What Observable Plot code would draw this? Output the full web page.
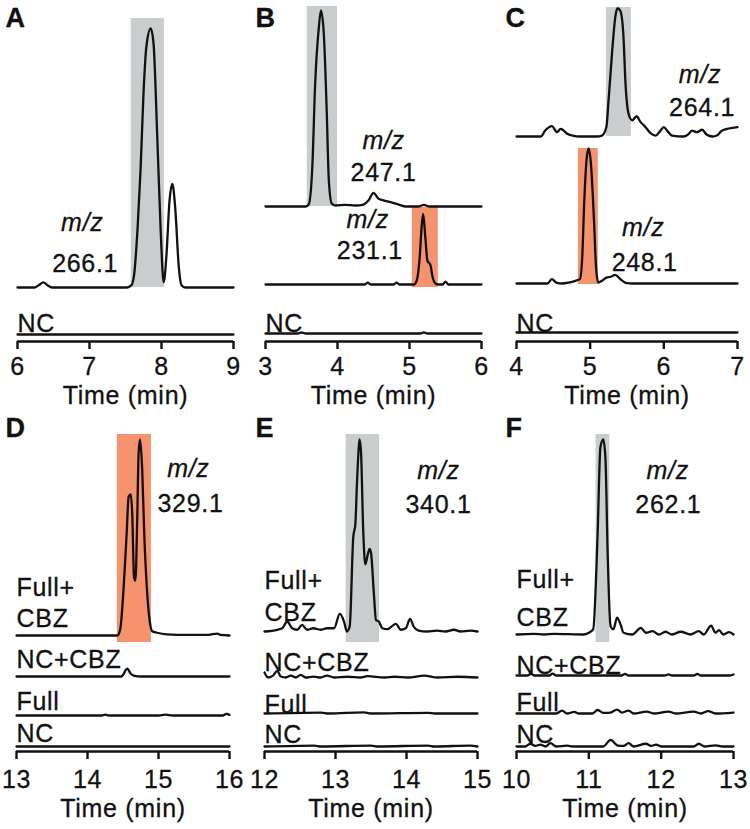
<!DOCTYPE html>
<html><head><meta charset="utf-8">
<script src="https://cdn.jsdelivr.net/npm/d3@7"></script>
<script src="https://cdn.jsdelivr.net/npm/@observablehq/plot@0.6"></script>
<style>
html,body{margin:0;padding:0;background:#fff;}
#fig{position:relative;width:750px;height:829px;overflow:hidden;}
#fig .panel{position:absolute;}
#fig svg text{stroke:#111;stroke-width:0.3px;paint-order:stroke;letter-spacing:0.7px;}
</style></head><body><div id="fig"></div>
<script>
// ---------- DATA: [time (min), relative intensity (% of panel's largest peak)] ----------
const A_mz266 = [[6.00,0],[6.24,0],[6.30,1.0],[6.36,2.0],[6.42,0.8],[6.48,0],[7.52,0],[7.58,0.8],[7.62,5],[7.67,24],[7.71,46],[7.75,75],[7.79,93],[7.85,100],[7.89,94],[7.94,59],[7.99,21],[8.03,2],[8.07,13],[8.11,33],[8.15,40],[8.19,31],[8.24,8],[8.28,0.8],[8.33,0],[9.00,0]];
const A_NC = [[6.00,0],[9.00,0]];

const B_mz247 = [[3.00,0],[3.56,0],[3.60,1],[3.65,20],[3.69,63],[3.74,91],[3.77,100],[3.81,88],[3.85,49],[3.88,13],[3.92,1.5],[3.97,0.5],[4.10,0.8],[4.25,0.5],[4.36,1],[4.43,3],[4.50,7],[4.57,4],[4.65,3],[4.76,2],[4.85,1],[4.95,0],[5.12,0],[5.20,0.8],[5.28,0],[6.00,0]];
const B_mz231 = [[3.00,0],[4.38,0],[4.42,1],[4.46,0],[4.78,0],[4.82,1],[4.86,0],[5.06,0],[5.10,2],[5.14,13],[5.17,30],[5.19,36],[5.22,24],[5.25,12],[5.27,11],[5.29,10],[5.32,4],[5.36,0.5],[5.40,0],[5.46,0],[5.50,1.5],[5.54,0],[6.00,0]];
const B_NC = [[3.00,0],[3.45,0],[3.50,0.5],[3.56,0],[5.15,0],[5.20,0.6],[5.25,0],[6.00,0]];

const C_mz264 = [[4.00,0],[4.33,0],[4.39,4.4],[4.48,7.7],[4.55,3.2],[4.60,5.7],[4.64,4.4],[4.69,2],[4.76,0.7],[4.87,0],[5.09,0],[5.16,0.7],[5.22,7],[5.25,27],[5.30,64],[5.34,88],[5.37,95],[5.41,93],[5.45,76],[5.48,39],[5.52,17],[5.57,12],[5.63,15],[5.68,11],[5.75,7],[5.82,2.5],[5.89,0.7],[5.95,4],[6.00,7],[6.05,4],[6.11,0.7],[6.27,0],[6.34,2],[6.38,4.4],[6.45,3.2],[6.52,5],[6.58,1.5],[6.66,0],[6.72,0.7],[6.78,4],[6.86,5.7],[6.93,6.4],[7.00,7]];
const C_mz248 = [[4.00,0],[4.42,0],[4.48,3.2],[4.54,0.7],[4.62,0],[4.71,0.7],[4.80,2],[4.86,3.2],[4.89,17],[4.92,61],[4.95,91],[4.98,100],[5.01,89],[5.05,49],[5.08,12],[5.11,0.7],[5.16,2],[5.22,4.4],[5.28,5],[5.34,6.4],[5.41,3.2],[5.50,0.2],[5.57,0],[7.00,0]];
const C_NC = [[4.00,0],[7.00,0]];

const D_fullCBZ = [[13.00,0],[14.42,0],[14.46,3],[14.51,25],[14.55,51],[14.58,71],[14.61,72],[14.63,62],[14.655,30],[14.675,28],[14.70,59],[14.72,93],[14.74,100],[14.77,85],[14.80,51],[14.84,22],[14.88,6.5],[14.91,2.2],[14.98,1.4],[15.12,0.6],[15.40,0.3],[15.70,0.3],[15.83,1],[15.87,0.3],[16.00,0]];
const D_ncCBZ = [[13.00,0],[14.48,0],[14.51,1.4],[14.54,3.4],[14.56,4],[14.61,1.4],[14.65,0.5],[14.75,0],[16.00,0]];
const D_full = [[13.00,0],[14.20,0],[14.25,0.4],[14.30,0],[15.00,0],[15.10,0.4],[15.20,0],[15.90,0],[15.96,0.8],[16.00,0.3]];
const D_NC = [[13.00,0],[16.00,0]];

const E_fullCBZ = [[12.00,0],[12.18,0.9],[12.25,1.7],[12.32,5.2],[12.39,1.7],[12.46,0.9],[12.53,3.5],[12.60,0.9],[12.69,1.7],[12.79,0.9],[12.88,1.7],[12.98,1.7],[13.06,9.2],[13.12,5.2],[13.16,0],[13.20,2.6],[13.25,49],[13.28,56],[13.30,75],[13.33,97],[13.34,100],[13.36,93],[13.39,53],[13.42,35],[13.46,41],[13.48,43],[13.50,41],[13.54,20],[13.57,6],[13.61,5.2],[13.66,1.7],[13.73,1.2],[13.85,4],[13.92,0.9],[13.99,1.7],[14.05,6.6],[14.10,2.6],[14.17,0.5],[14.29,0],[14.43,0.5],[14.55,0],[14.67,0.9],[14.76,0],[14.90,0.5],[15.00,0]];
const E_ncCBZ = [[12.00,2.6],[12.05,0],[12.12,1],[12.18,3.5],[12.23,0.5],[12.30,0],[12.37,1],[12.44,0],[12.51,1.4],[12.58,0],[12.69,0.5],[12.79,0],[12.88,1],[12.98,0],[13.17,0.4],[13.35,0],[13.45,0.7],[13.69,0],[13.83,0.4],[14.02,0],[14.25,1],[14.44,0],[14.72,0.4],[15.00,0]];
const E_full = [[12.00,0],[12.80,0.5],[12.90,0],[13.40,0.6],[13.50,0],[14.30,0.3],[14.40,0],[15.00,0]];
const E_NC = [[12.00,0],[12.70,0.5],[12.80,0],[13.50,0.5],[13.60,0],[14.30,0.5],[14.40,0],[14.90,0.5],[15.00,0]];

const F_fullCBZ = [[10.00,0],[10.24,0.3],[10.38,0],[10.52,0.3],[10.93,0],[11.00,0.9],[11.06,2.6],[11.12,50],[11.16,96],[11.20,100],[11.23,90],[11.26,42],[11.30,4.3],[11.34,2.6],[11.39,8.6],[11.44,5],[11.48,0.9],[11.60,0],[11.72,3.4],[11.79,0.9],[11.88,1.7],[11.97,0],[12.06,1.4],[12.15,0],[12.27,1.4],[12.41,0],[12.52,1.7],[12.59,0],[12.69,4.6],[12.75,0.9],[12.80,2.2],[12.86,0],[12.94,1.2],[13.00,0]];
const F_ncCBZ = [[10.00,0],[10.15,0],[10.20,0.8],[10.25,0],[10.45,0],[10.50,1],[10.55,0],[11.45,0],[11.50,0.8],[11.55,0],[12.05,0],[12.10,0.6],[12.15,0],[12.45,0],[12.50,0.8],[12.55,0],[12.95,0],[13.00,0.5]];
const F_full = [[10.00,0],[10.55,0],[10.63,1.5],[10.70,0],[10.80,0.8],[10.86,0],[11.05,0],[11.12,1.8],[11.20,0.3],[11.30,0.5],[11.39,2],[11.46,0.5],[11.55,1.5],[11.62,0],[11.80,1],[11.90,0],[12.10,1],[12.20,0],[12.45,1],[12.55,0],[12.65,1.2],[12.75,0],[13.00,0.5]];
const F_NC = [[10.00,0],[10.12,0],[10.19,1.4],[10.26,0.3],[10.33,1],[10.40,0],[10.47,1.7],[10.55,0],[10.70,0.4],[10.78,0],[11.20,0],[11.30,3.4],[11.40,0.5],[11.48,0.3],[11.55,1.7],[11.62,0],[11.79,1.4],[11.86,0.3],[11.93,1],[12.00,0],[12.45,0],[12.52,1.4],[12.60,0],[12.75,0.6],[12.85,0],[13.00,0]];

// retention windows highlighted [start, end] (min)
const A_window = [7.58, 8.04];
const B_window247 = [3.58, 4.00];
const B_window231 = [5.04, 5.40];
const C_window264 = [5.22, 5.56];
const C_window248 = [4.84, 5.11];
const D_window = [14.42, 14.90];
const E_window = [13.15, 13.62];
const F_window = [11.10, 11.29];

// axis tick labels
const A_ticks = [6, 7, 8, 9];
const B_ticks = [3, 4, 5, 6];
const C_ticks = [4, 5, 6, 7];
const D_ticks = [13, 14, 15, 16];
const E_ticks = [12, 13, 14, 15];
const F_ticks = [10, 11, 12, 13];

// ---------- LAYOUT / STYLE ----------
const GRAY = "#c9cdce", ORANGE = "#f5936f", INK = "#111";
const FONT = "'Liberation Sans', Arial, Helvetica, sans-serif";

const panels = [
  {letter: "A", left: 0, top: 0, height: 410, ml: 17, mr: 17, ticks: A_ticks, amp: 259, tickPad: 8, timeDy: 45,
   traces: [{d: A_mz266, base: 54}, {d: A_NC, base: 7}],
   rects: [{w: A_window, y1: 54, y2: 323, fill: GRAY}],
   labels: [{t: "m/z", x: 6.90, y: 119, it: true}, {t: "266.1", x: 6.94, y: 78}, {t: "NC", x: 6, y: 18, s: true}]},
  {letter: "B", left: 250, top: 0, height: 410, ml: 15, mr: 19, ticks: B_ticks, amp: 196, tickPad: 8, timeDy: 45,
   traces: [{d: B_mz247, base: 135}, {d: B_mz231, base: 57}, {d: B_NC, base: 8}],
   rects: [{w: B_window247, y1: 135, y2: 335, fill: GRAY}, {w: B_window231, y1: 54, y2: 134, fill: ORANGE}],
   labels: [{t: "m/z", x: 4.64, y: 201, it: true}, {t: "247.1", x: 4.64, y: 169}, {t: "m/z", x: 4.42, y: 122, it: true}, {t: "231.1", x: 4.45, y: 91}, {t: "NC", x: 3, y: 18, s: true}]},
  {letter: "C", left: 500, top: 0, height: 410, ml: 16, mr: 13, ticks: C_ticks, amp: 135, tickPad: 8, timeDy: 45,
   traces: [{d: C_mz264, base: 205}, {d: C_mz248, base: 58}, {d: C_NC, base: 9}],
   rects: [{w: C_window264, y1: 205, y2: 334, fill: GRAY}, {w: C_window248, y1: 57, y2: 193, fill: ORANGE}],
   labels: [{t: "m/z", x: 6.49, y: 267, it: true}, {t: "264.1", x: 6.52, y: 234}, {t: "m/z", x: 5.72, y: 114, it: true}, {t: "248.1", x: 5.74, y: 79}, {t: "NC", x: 4, y: 18, s: true}]},
  {letter: "D", left: 0, top: 410, height: 419, ml: 16, mr: 21, ticks: D_ticks, amp: 196, tickPad: 11, timeDy: 48,
   traces: [{d: D_fullCBZ, base: 116}, {d: D_ncCBZ, base: 75}, {d: D_full, base: 36}, {d: D_NC, base: 5}],
   rects: [{w: D_window, y1: 109, y2: 317, fill: ORANGE}],
   labels: [{t: "m/z", x: 15.42, y: 283, it: true}, {t: "329.1", x: 15.45, y: 248}, {t: "Full+", x: 13, y: 164, s: true}, {t: "CBZ", x: 13, y: 133, s: true}, {t: "NC+CBZ", x: 13, y: 92, s: true}, {t: "Full", x: 13, y: 50, s: true}, {t: "NC", x: 13, y: 18, s: true}]},
  {letter: "E", left: 250, top: 410, height: 419, ml: 14, mr: 23, ticks: E_ticks, amp: 192, tickPad: 11, timeDy: 48,
   traces: [{d: E_fullCBZ, base: 120}, {d: E_ncCBZ, base: 74}, {d: E_full, base: 38}, {d: E_NC, base: 5}],
   rects: [{w: E_window, y1: 109, y2: 317, fill: GRAY}],
   labels: [{t: "m/z", x: 14.45, y: 281, it: true}, {t: "340.1", x: 14.45, y: 247}, {t: "Full+", x: 12, y: 171, s: true}, {t: "CBZ", x: 12, y: 139, s: true}, {t: "NC+CBZ", x: 12, y: 89, s: true}, {t: "Full", x: 12, y: 47, s: true}, {t: "NC", x: 12, y: 17, s: true}]},
  {letter: "F", left: 500, top: 410, height: 419, ml: 16, mr: 17, ticks: F_ticks, amp: 195, tickPad: 11, timeDy: 48,
   traces: [{d: F_fullCBZ, base: 117}, {d: F_ncCBZ, base: 76}, {d: F_full, base: 38}, {d: F_NC, base: 5}],
   rects: [{w: F_window, y1: 109, y2: 317, fill: GRAY}],
   labels: [{t: "m/z", x: 12.09, y: 281, it: true}, {t: "262.1", x: 12.10, y: 247}, {t: "Full+", x: 10, y: 172, s: true}, {t: "CBZ", x: 10, y: 134, s: true}, {t: "NC+CBZ", x: 10, y: 86, s: true}, {t: "Full", x: 10, y: 49, s: true}, {t: "NC", x: 10, y: 17, s: true}]}
];

const AXIS_Y = 341; // frame height in px above the time axis
const fig = document.getElementById("fig");

for (const p of panels) {
  const pts = [];
  p.traces.forEach((tr, i) => tr.d.forEach(([t, v]) => pts.push({t, y: tr.base + v * p.amp / 100, k: i})));
  const rects = p.rects.map(r => ({x1: r.w[0], x2: r.w[1], y1: r.y1, y2: r.y2, fill: r.fill}));
  const normal = p.labels.filter(l => !l.it && !l.s);
  const italic = p.labels.filter(l => l.it);
  const left = p.labels.filter(l => l.s);
  const chart = Plot.plot({
    width: 250, height: p.height,
    marginTop: 0, marginBottom: p.height - AXIS_Y, marginLeft: p.ml, marginRight: p.mr,
    x: {domain: [p.ticks[0], p.ticks[p.ticks.length - 1]], label: null},
    y: {domain: [0, AXIS_Y], axis: null},
    style: {fontFamily: FONT, fontSize: "25px", color: INK, background: "transparent", overflow: "visible"},
    marks: [
      Plot.rect(rects, {x1: "x1", x2: "x2", y1: "y1", y2: "y2", fill: d => d.fill}),
      Plot.line(pts, {x: "t", y: "y", z: "k", stroke: INK, strokeWidth: 2.3, curve: "monotone-x", strokeLinejoin: "round"}),
      Plot.text(italic, {x: "x", y: "y", text: "t", fontStyle: "italic", fill: INK, lineAnchor: "middle"}),
      Plot.text(normal, {x: "x", y: "y", text: "t", fill: INK, lineAnchor: "middle"}),
      Plot.text(left, {x: "x", y: "y", text: "t", fill: INK, textAnchor: "start", lineAnchor: "middle"}),
      Plot.ruleY([0], {stroke: INK, strokeWidth: 2.6}),
      Plot.axisX({ticks: p.ticks, tickSize: 8, tickPadding: p.tickPad, tickFormat: d => String(d), stroke: INK, strokeWidth: 2.4, fill: INK, label: null}),
      Plot.text(["Time (min)"], {frameAnchor: "bottom", lineAnchor: "top", dy: p.timeDy, fill: INK}),
      Plot.text([p.letter], {frameAnchor: "top-left", textAnchor: "start", lineAnchor: "top", dx: 5 - p.ml, dy: 7, fontWeight: "bold", fontSize: 27, fill: INK})
    ]
  });
  chart.classList.add("panel");
  chart.style.left = p.left + "px";
  chart.style.top = p.top + "px";
  fig.appendChild(chart);
}
</script></body></html>
